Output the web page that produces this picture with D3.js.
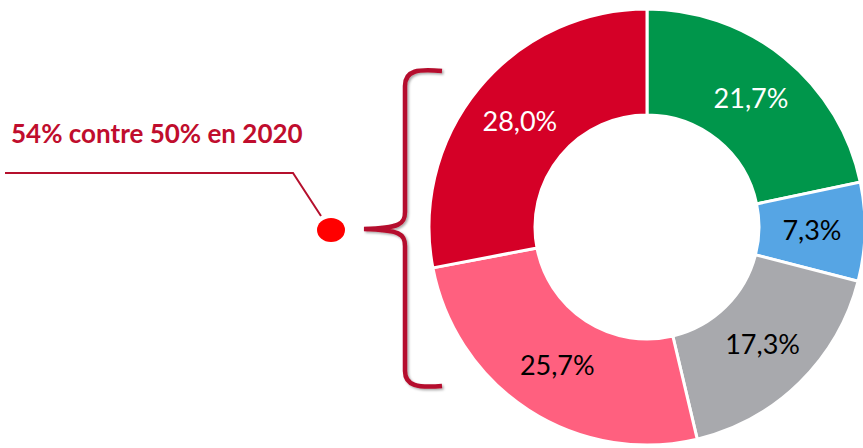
<!DOCTYPE html>
<html>
  <head>
    <meta charset="utf-8" />
    <title>Donut</title>
    <script src="https://d3js.org/d3.v7.min.js"></script>
    <style>
        body {
            margin: 0;
            background: #fff;
        }
    </style>
  </head>
  <body>
    <svg id="donut"></svg>

    <script>
        // data, clockwise from 12 o'clock
        var categories = ["vert", "bleu", "gris", "rose", "rouge"];
        var values = [21.7, 7.3, 17.3, 25.7, 28.0];
        var sliceColors = ["#00964b", "#56a5e4", "#a8a9ad", "#ff607f", "#d50027"];
        var labelColors = ["#ffffff", "#000000", "#000000", "#000000", "#ffffff"];
        var note = "54% contre 50% en 2020";

        var width = 863;
        var height = 448;
        var cx = 647, cy = 227;
        var outerR = 218, innerR = 112;

        var svg = d3.select("#donut")
            .attr("width", width)
            .attr("height", height);

        var defs = svg.append("defs");
        var f = defs.append("filter").attr("id", "shadow")
            .attr("x", "-50%").attr("y", "-10%").attr("width", "200%").attr("height", "120%");
        f.append("feDropShadow").attr("dx", 1.5).attr("dy", 1.5)
            .attr("stdDeviation", 1.2).attr("flood-color", "#000").attr("flood-opacity", 0.35);

        var data = categories.map(function(c, i) {
            return {cat: c, value: values[i], color: sliceColors[i], label: labelColors[i]};
        });

        var pie = d3.pie()
            .value(function(d) { return d.value; })
            .sort(null);

        var arc = d3.arc()
            .innerRadius(innerR)
            .outerRadius(outerR);

        var labelArc = d3.arc()
            .innerRadius(165)
            .outerRadius(165);

        var g = svg.append("g")
            .attr("transform", "translate(" + cx + "," + cy + ")");

        var arcs = pie(data);

        g.selectAll("path.slice")
            .data(arcs)
            .enter().append("path")
            .attr("class", "slice")
            .attr("d", arc)
            .attr("fill", function(d) { return d.data.color; })
            .attr("stroke", "#fff")
            .attr("stroke-width", 3);

        g.selectAll("text.lbl")
            .data(arcs)
            .enter().append("text")
            .attr("class", "lbl")
            .attr("transform", function(d) {
                var p = labelArc.centroid(d);
                return "translate(" + p[0] + "," + p[1] + ")";
            })
            .attr("text-anchor", "middle")
            .attr("dy", "0.35em")
            .style("font-family", "Lato, 'Open Sans', sans-serif")
            .style("font-size", "27px")
            .attr("fill", function(d) { return d.data.label; })
            .text(function(d) { return d.data.value.toFixed(1).replace(".", ",") + "%"; });

        // brace
        svg.append("path")
            .attr("d", "M442,71 C418,69 405,70 405,86 L405,212 C405,224 400,228 364,229 C400,230 405,234 405,246 L405,371 C405,386 418,388 442,386")
            .attr("fill", "none")
            .attr("stroke", "#b5102d")
            .attr("stroke-width", 4.5)
            .attr("filter", "url(#shadow)");

        // note
        svg.append("text")
            .attr("x", 11)
            .attr("y", 143)
            .style("font-family", "Lato, 'Open Sans', sans-serif")
            .style("font-weight", "bold")
            .style("font-size", "26px")
            .attr("fill", "#c00d2d")
            .text(note);

        svg.append("polyline")
            .attr("points", "5,173 293,173 321,216")
            .attr("fill", "none")
            .attr("stroke", "#b5102d")
            .attr("stroke-width", 2);

        svg.append("ellipse")
            .attr("cx", 331).attr("cy", 230)
            .attr("rx", 14).attr("ry", 12)
            .attr("fill", "#ff0000");
      </script>
  </body>
</html>
